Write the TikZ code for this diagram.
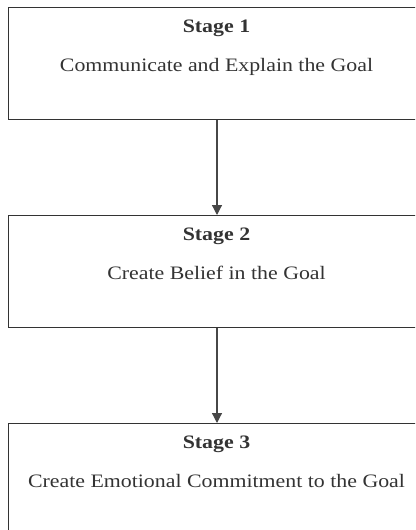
\documentclass[tikz,border=0pt]{standalone}
\usepackage{fontspec}
\setmainfont[FakeStretch=1.15]{Liberation Serif}
\usetikzlibrary{arrows.meta}
\definecolor{ink}{HTML}{333333}
\begin{document}
\begin{tikzpicture}[x=1pt,y=1pt,
  stagebox/.style={draw=ink, line width=1pt, rectangle, minimum width=417pt, minimum height=111.5pt, anchor=north west, inner sep=0pt},
  stagetitle/.style={anchor=base, font=\fontsize{19}{22}\selectfont\bfseries, text=ink, inner sep=0pt},
  stagetext/.style={anchor=base, font=\fontsize{19}{22}\selectfont, text=ink, inner sep=0pt},
  link/.style={draw=ink!90, line width=1.2pt, -{Triangle[length=10pt,width=10pt]}}]
\useasboundingbox (0,0) rectangle (415,-530);
\clip (0,0) rectangle (415,-530);
\node[stagebox] (b1) at (8,-7) {};
\node[stagebox] (b2) at (8,-215) {};
\node[stagebox] (b3) at (8,-423) {};
\node[stagetitle] (t1) at (216.5,-32) {Stage 1};
\node[stagetext] (s1) at (216.5,-71) {Communicate and Explain the Goal};
\node[stagetitle] (t2) at (216.5,-240) {Stage 2};
\node[stagetext] (s2) at (216.5,-279.5) {Create Belief in the Goal};
\node[stagetitle] (t3) at (216.5,-448) {Stage 3};
\node[stagetext] (s3) at (216.5,-487.5) {Create Emotional Commitment to the Goal};
\draw[link] (b1.south) -- (b2.north);
\draw[link] (b2.south) -- (b3.north);
\end{tikzpicture}
\end{document}
